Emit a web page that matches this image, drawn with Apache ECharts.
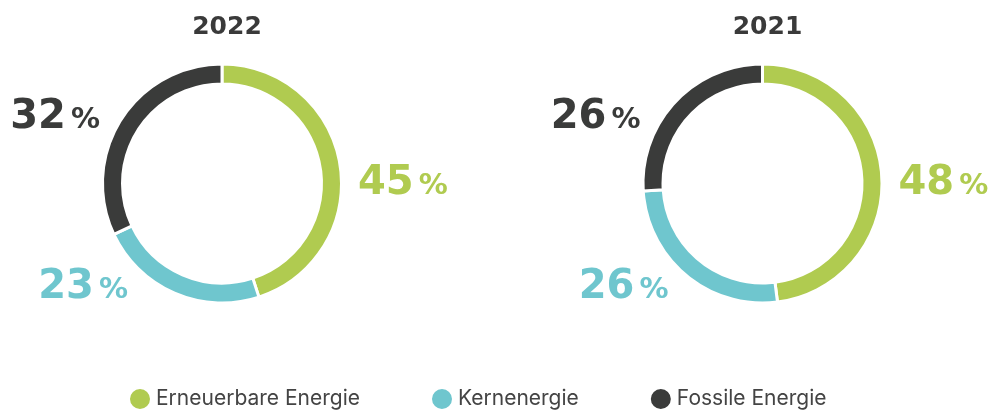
<!DOCTYPE html>
<html>
<head>
<meta charset="utf-8">
<script src="https://cdn.jsdelivr.net/npm/echarts@6/dist/echarts.min.js"></script>
<style>
html,body{margin:0;padding:0;background:#fff;}
#c{width:996px;height:410px;}
</style>
</head>
<body>
<div id="c"></div>
<script>
const categories = ['Erneuerbare Energie', 'Kernenergie', 'Fossile Energie'];
const years = ['2022', '2021'];
const values2022 = [45, 23, 32];
const values2021 = [48, 26, 26];
const colors = ['#b0cb50', '#6fc6ce', '#3a3b3a'];

const centers = [[222, 183.5], [762.5, 183.5]];
const R = 118;
const labelOffsets = [
  { dx: R + 18, dy: 0, align: 'left' },
  { dx: -R + 24, dy: 104, align: 'right' },
  { dx: -R - 4, dy: -66, align: 'right' }
];

const chart = echarts.init(document.getElementById('c'), null, { renderer: 'canvas' });

function makeSeries(idx, values) {
  return {
    type: 'pie',
    name: years[idx],
    center: centers[idx],
    radius: [99.5, 119.5],
    startAngle: 90,
    clockwise: true,
    avoidLabelOverlap: false,
    silent: true,
    emphasis: { disabled: true },
    itemStyle: { borderColor: '#ffffff', borderWidth: 3 },
    label: {
      show: true,
      position: 'outside',
      formatter: '{n|{c}}{p|%}',
      rich: {
        n: { fontFamily: 'DejaVu Sans', fontWeight: 'bold', fontSize: 40, color: 'inherit' },
        p: { fontFamily: 'DejaVu Sans', fontWeight: 'bold', fontSize: 29, color: 'inherit', padding: [6, 0, 0, 5] }
      }
    },
    labelLine: { show: false },
    labelLayout: function (p) {
      const c = centers[p.seriesIndex];
      const o = labelOffsets[p.dataIndex];
      return { x: c[0] + o.dx, y: c[1] + o.dy, align: o.align, verticalAlign: 'middle' };
    },
    data: categories.map((name, i) => ({
      name: name,
      value: values[i],
      itemStyle: { color: colors[i] },
      label: { color: colors[i] }
    }))
  };
}

chart.setOption({
  animation: false,
  color: colors,
  title: years.map((y, i) => ({
    text: y,
    left: centers[i][0],
    top: 10,
    textAlign: 'center',
    textStyle: { fontFamily: 'DejaVu Sans', fontWeight: 'bold', fontSize: 25, color: '#3a3a3a' }
  })),
  legend: {
    data: categories,
    left: 128,
    top: 387,
    padding: 0,
    icon: 'circle',
    itemWidth: 22,
    itemHeight: 22,
    itemGap: 70,
    selectedMode: false,
    textStyle: { fontFamily: 'Inter', fontSize: 21, color: '#444444', padding: [0, 0, 0, 0] }
  },
  series: [makeSeries(0, values2022), makeSeries(1, values2021)]
});
</script>
</body>
</html>
